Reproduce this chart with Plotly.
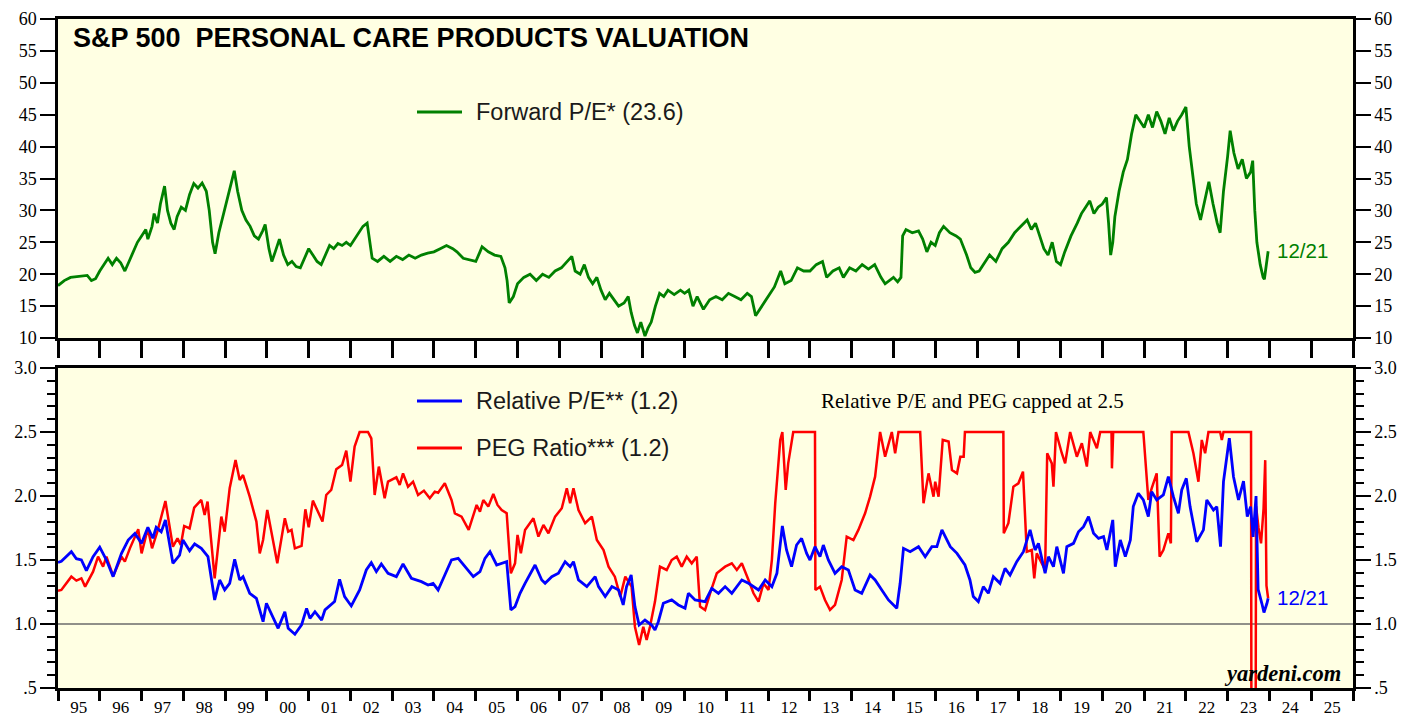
import plotly.graph_objects as go
from datetime import datetime, timedelta

# ---------------- DATA (decimal year, value) ----------------
fpe_t = [1995.0,1995.15,1995.3,1995.5,1995.7,1995.8,1995.9,1996.0,1996.1,1996.2,1996.3,1996.4,1996.5,1996.6,1996.7,1996.8,1996.9,
         1997.0,1997.1,1997.15,1997.25,1997.3,1997.38,1997.45,1997.55,1997.62,1997.7,1997.78,1997.85,1997.95,1998.05,1998.15,1998.25,
         1998.35,1998.45,1998.55,1998.62,1998.7,1998.76,1998.85,1998.95,1999.05,1999.15,1999.22,1999.3,1999.4,1999.5,1999.6,1999.7,
         1999.8,1999.9,1999.96,2000.05,2000.12,2000.2,2000.3,2000.4,2000.5,2000.6,2000.7,2000.8,2000.9,2001.0,2001.1,2001.2,2001.3,
         2001.4,2001.5,2001.6,2001.7,2001.8,2001.9,2002.0,2002.1,2002.2,2002.3,2002.4,2002.45,2002.52,2002.65,2002.8,2002.95,2003.1,
         2003.25,2003.4,2003.55,2003.7,2003.85,2004.0,2004.15,2004.3,2004.45,2004.55,2004.7,2004.85,2005.0,2005.1,2005.15,2005.3,
         2005.45,2005.6,2005.7,2005.75,2005.8,2005.9,2006.0,2006.15,2006.3,2006.45,2006.6,2006.75,2006.9,2007.05,2007.2,2007.3,
         2007.38,2007.5,2007.6,2007.7,2007.8,2007.9,2008.0,2008.1,2008.2,2008.3,2008.42,2008.55,2008.65,2008.72,2008.8,2008.87,
         2008.95,2009.05,2009.12,2009.2,2009.3,2009.4,2009.5,2009.6,2009.75,2009.9,2010.0,2010.1,2010.2,2010.3,2010.45,2010.6,
         2010.75,2010.9,2011.05,2011.2,2011.35,2011.5,2011.6,2011.7,2011.8,2011.9,2012.0,2012.15,2012.3,2012.4,2012.55,2012.7,
         2012.85,2013.0,2013.15,2013.3,2013.4,2013.55,2013.7,2013.8,2013.95,2014.1,2014.25,2014.4,2014.55,2014.7,2014.8,2014.9,
         2015.0,2015.1,2015.18,2015.22,2015.3,2015.45,2015.6,2015.7,2015.8,2015.9,2016.0,2016.1,2016.2,2016.35,2016.5,2016.6,
         2016.75,2016.85,2016.95,2017.05,2017.2,2017.3,2017.45,2017.6,2017.75,2017.9,2018.05,2018.2,2018.3,2018.4,2018.5,2018.6,
         2018.7,2018.8,2018.9,2019.0,2019.1,2019.25,2019.4,2019.5,2019.6,2019.7,2019.8,2019.9,2020.0,2020.1,2020.15,2020.2,
         2020.25,2020.3,2020.4,2020.5,2020.6,2020.7,2020.8,2020.9,2021.0,2021.1,2021.2,2021.3,2021.4,2021.5,2021.6,2021.7,2021.8,
         2021.9,2022.0,2022.08,2022.15,2022.25,2022.35,2022.45,2022.55,2022.65,2022.75,2022.82,2022.9,2023.0,2023.06,2023.15,
         2023.25,2023.35,2023.45,2023.55,2023.6,2023.65,2023.7,2023.78,2023.85,2023.88,2023.92,2023.97]
fpe_v = [18.2,19.0,19.5,19.6,19.8,19.0,19.3,20.5,21.5,22.5,21.5,22.5,21.8,20.5,22.0,23.5,25.0,
         26.0,27.0,25.5,27.5,29.5,28.0,31.0,33.8,30.0,28.0,27.0,29.0,30.5,30.0,32.5,34.2,
         33.5,34.3,33.0,30.0,25.0,23.2,26.5,29.0,31.5,34.0,36.2,33.0,30.0,28.5,27.5,26.0,
         25.5,26.8,27.8,24.0,22.0,23.5,25.5,23.0,21.5,22.0,21.2,21.0,22.5,24.0,23.0,22.0,21.5,
         23.0,24.5,24.0,24.8,24.5,25.0,24.5,25.5,26.5,27.5,28.0,26.0,22.5,22.0,22.8,22.0,22.8,
         22.3,23.0,22.5,23.0,23.3,23.5,24.0,24.5,24.0,23.5,22.5,22.3,22.0,23.5,24.3,23.5,
         23.0,22.8,21.0,19.0,15.5,16.5,18.5,19.5,20.0,19.0,20.0,19.5,20.5,21.0,22.0,22.8,
         20.5,20.0,21.5,19.5,18.5,19.5,17.5,16.0,17.0,16.0,15.0,15.5,16.5,14.0,12.0,10.8,
         12.5,10.3,11.5,12.5,15.0,17.0,16.5,17.5,16.8,17.5,17.0,17.5,15.0,16.5,14.5,16.0,
         16.5,16.0,17.0,16.5,16.0,17.0,16.5,13.5,14.5,15.5,16.5,18.0,20.5,18.5,19.0,21.0,
         20.5,20.5,21.5,22.0,19.5,20.5,21.0,19.5,21.0,20.5,21.5,20.8,21.5,19.5,18.5,19.0,
         19.5,18.8,19.5,26.0,27.0,26.5,26.8,25.5,23.5,25.0,24.5,26.5,27.5,26.5,26.0,25.5,
         23.0,21.0,20.3,20.5,22.0,23.0,22.0,24.0,25.0,26.5,27.5,28.5,27.0,28.0,26.0,24.0,
         23.0,25.0,22.0,21.5,23.5,26.0,28.0,29.5,30.5,31.5,29.5,30.5,31.0,32.0,28.0,23.0,
         25.0,29.0,33.0,36.0,38.0,42.0,45.0,44.0,43.0,45.0,43.0,45.5,44.0,42.0,44.5,42.5,44.0,
         45.0,46.2,40.0,36.0,31.0,28.5,31.5,34.5,31.0,28.0,26.5,33.0,38.5,42.5,39.0,
         36.5,38.0,35.0,36.0,37.8,30.0,25.0,21.5,19.5,19.2,21.5,23.6]

rel_t = [1995.0,1995.08,1995.32,1995.44,1995.56,1995.68,1995.84,1996.0,1996.16,1996.32,1996.52,1996.68,1996.84,1997.0,1997.15,
         1997.27,1997.35,1997.47,1997.57,1997.75,1997.91,1997.99,1998.15,1998.27,1998.43,1998.59,1998.75,1998.87,1998.99,1999.11,
         1999.23,1999.35,1999.43,1999.59,1999.75,1999.91,1999.99,2000.11,2000.27,2000.43,2000.51,2000.67,2000.83,2000.95,2001.03,
         2001.15,2001.31,2001.39,2001.62,2001.74,2001.86,2002.02,2002.22,2002.38,2002.5,2002.62,2002.74,2002.9,2003.1,2003.26,
         2003.46,2003.7,2003.86,2003.98,2004.1,2004.26,2004.42,2004.58,2004.74,2004.94,2005.1,2005.22,2005.34,2005.5,2005.74,
         2005.84,2005.94,2006.06,2006.18,2006.42,2006.58,2006.66,2006.82,2006.98,2007.14,2007.26,2007.34,2007.46,2007.66,2007.86,
         2007.94,2008.1,2008.26,2008.42,2008.53,2008.61,2008.72,2008.81,2008.91,2009.05,2009.21,2009.29,2009.37,2009.49,2009.69,
         2009.85,2010.01,2010.09,2010.25,2010.49,2010.65,2010.81,2010.97,2011.13,2011.37,2011.53,2011.77,2011.93,2012.09,2012.21,
         2012.34,2012.44,2012.56,2012.68,2012.8,2012.92,2013.0,2013.12,2013.24,2013.32,2013.44,2013.6,2013.76,2013.92,2014.08,
         2014.24,2014.44,2014.56,2014.72,2014.88,2015.08,2015.16,2015.24,2015.4,2015.6,2015.76,2015.92,2016.04,2016.16,2016.36,
         2016.52,2016.71,2016.83,2016.91,2017.03,2017.15,2017.27,2017.39,2017.55,2017.67,2017.79,2017.95,2018.11,2018.27,2018.39,
         2018.47,2018.63,2018.71,2018.83,2018.91,2019.07,2019.15,2019.31,2019.43,2019.55,2019.67,2019.79,2019.91,2020.03,2020.11,
         2020.25,2020.31,2020.43,2020.55,2020.67,2020.74,2020.86,2020.98,2021.1,2021.18,2021.3,2021.46,2021.58,2021.7,2021.82,
         2021.9,2022.01,2022.1,2022.26,2022.42,2022.5,2022.66,2022.74,2022.83,2022.9,2022.98,2023.04,2023.14,2023.26,2023.38,
         2023.47,2023.55,2023.61,2023.68,2023.73,2023.82,2023.87,2023.94,2023.97]
rel_v = [1.48,1.49,1.565,1.51,1.50,1.417,1.526,1.60,1.50,1.37,1.552,1.656,1.708,1.63,1.755,
         1.67,1.755,1.72,1.813,1.474,1.539,1.656,1.573,1.625,1.591,1.526,1.188,1.344,1.266,1.318,
         1.505,1.344,1.37,1.24,1.201,1.018,1.162,1.083,0.966,1.096,0.966,0.92,0.993,1.122,1.044,
         1.096,1.031,1.11,1.175,1.349,1.214,1.141,1.266,1.422,1.479,1.409,1.469,1.396,1.37,1.469,
         1.357,1.331,1.305,1.318,1.266,1.383,1.50,1.513,1.448,1.37,1.409,1.513,1.565,1.461,1.487,
         1.11,1.136,1.24,1.318,1.461,1.344,1.318,1.37,1.396,1.487,1.448,1.487,1.344,1.292,1.37,
         1.292,1.214,1.292,1.266,1.149,1.292,1.383,1.136,0.992,1.031,0.992,0.953,1.018,1.162,1.188,
         1.149,1.123,1.24,1.188,1.175,1.279,1.24,1.292,1.24,1.344,1.318,1.266,1.344,1.292,1.396,
         1.766,1.578,1.448,1.617,1.669,1.552,1.50,1.604,1.526,1.617,1.50,1.396,1.448,1.422,1.266,
         1.24,1.383,1.344,1.266,1.188,1.123,1.318,1.591,1.565,1.604,1.526,1.604,1.604,1.735,1.604,
         1.552,1.461,1.344,1.214,1.175,1.292,1.24,1.37,1.318,1.435,1.383,1.487,1.565,1.735,1.578,
         1.63,1.396,1.526,1.448,1.604,1.396,1.604,1.63,1.721,1.76,1.839,1.709,1.669,1.683,1.578,
         1.813,1.448,1.656,1.526,1.656,1.917,2.021,1.969,1.839,2.034,1.969,2.008,2.151,1.995,1.865,
         2.047,2.138,1.917,1.643,1.735,1.969,1.891,1.917,1.604,2.112,2.308,2.451,2.151,1.969,2.116,
         1.84,1.917,1.68,2.0,1.27,1.16,1.09,1.16,1.2]

peg_t = [1995.0,1995.08,1995.32,1995.44,1995.56,1995.65,1995.84,1995.96,1996.08,1996.16,1996.32,1996.52,1996.6,1996.72,1996.92,
         1997.0,1997.15,1997.25,1997.39,1997.57,1997.75,1997.86,1997.94,1998.02,1998.15,1998.26,1998.43,1998.51,1998.58,1998.75,
         1998.91,1998.99,1999.11,1999.25,1999.35,1999.43,1999.59,1999.75,1999.83,1999.91,2000.01,2000.12,2000.25,2000.43,2000.51,
         2000.59,2000.67,2000.83,2000.92,2001.0,2001.1,2001.33,2001.42,2001.54,2001.66,2001.8,2001.9,2002.0,2002.1,2002.22,
         2002.42,2002.5,2002.58,2002.68,2002.82,2002.9,2003.1,2003.18,2003.26,2003.38,2003.5,2003.62,2003.76,2003.9,2004.02,
         2004.1,2004.26,2004.42,2004.5,2004.66,2004.83,2005.02,2005.1,2005.18,2005.3,2005.42,2005.52,2005.62,2005.74,2005.84,
         2005.94,2006.0,2006.08,2006.18,2006.38,2006.5,2006.62,2006.74,2006.9,2007.06,2007.18,2007.26,2007.34,2007.46,2007.62,
         2007.78,2007.9,2008.06,2008.18,2008.33,2008.46,2008.58,2008.73,2008.81,2008.91,2009.01,2009.09,2009.17,2009.29,2009.41,
         2009.57,2009.69,2009.81,2009.93,2010.05,2010.17,2010.29,2010.37,2010.49,2010.61,2010.77,2010.97,2011.13,2011.25,2011.37,
         2011.53,2011.65,2011.77,2011.89,2012.01,2012.09,2012.17,2012.29,2012.34,2012.42,2012.48,2012.6,2013.12,2013.13,2013.24,
         2013.36,2013.48,2013.6,2013.76,2013.88,2014.04,2014.16,2014.32,2014.44,2014.56,2014.68,2014.8,2014.96,2015.04,2015.12,
         2015.64,2015.72,2015.84,2015.96,2016.0,2016.08,2016.18,2016.32,2016.4,2016.52,2016.6,2016.68,2016.71,2017.63,2017.64,
         2017.75,2017.87,2017.99,2018.1,2018.15,2018.19,2018.31,2018.37,2018.43,2018.51,2018.63,2018.68,2018.79,2018.83,2018.89,
         2019.03,2019.11,2019.23,2019.39,2019.51,2019.63,2019.71,2019.87,2019.95,2020.22,2020.23,2020.26,2020.98,2021.06,2021.1,
         2021.18,2021.3,2021.37,2021.46,2021.58,2021.64,2021.66,2022.06,2022.18,2022.26,2022.3,2022.38,2022.46,2022.54,2022.82,
         2022.86,2022.9,2023.56,2023.57,2023.67,2023.68,2023.74,2023.8,2023.86,2023.9,2023.93,2023.97]
peg_v = [1.26,1.266,1.37,1.339,1.357,1.292,1.409,1.526,1.448,1.526,1.375,1.526,1.487,1.591,1.74,
         1.552,1.747,1.591,1.735,1.961,1.604,1.669,1.617,1.766,1.747,1.909,1.969,1.852,1.956,1.357,
         1.839,1.721,2.06,2.281,2.125,2.164,1.995,1.80,1.552,1.656,1.891,1.696,1.474,1.826,1.721,
         1.735,1.591,1.61,1.896,1.755,1.964,1.80,2.008,2.047,2.209,2.242,2.354,2.112,2.386,2.5,
         2.5,2.45,2.008,2.23,1.982,2.112,2.146,2.086,2.177,2.073,2.112,2.008,2.042,1.982,2.034,
         2.026,2.099,1.969,1.865,1.839,1.735,1.93,1.878,1.969,1.917,2.016,1.93,1.891,1.865,1.396,
         1.474,1.696,1.552,1.735,1.826,1.683,1.774,1.709,1.839,1.904,2.06,1.943,2.06,1.891,1.787,
         1.839,1.656,1.578,1.448,1.37,1.214,1.37,1.292,0.979,0.836,0.979,0.875,0.979,1.175,1.448,
         1.422,1.50,1.526,1.448,1.526,1.474,1.526,1.136,1.11,1.24,1.396,1.448,1.474,1.422,1.474,
         1.344,1.24,1.175,1.318,1.266,1.50,1.943,2.438,2.5,2.047,2.255,2.5,2.5,1.266,1.292,
         1.188,1.11,1.149,1.344,1.683,1.656,1.735,1.865,1.995,2.151,2.5,2.307,2.5,2.334,2.5,
         2.5,1.943,2.177,1.995,2.112,1.995,2.438,2.425,2.203,2.177,2.307,2.307,2.5,2.5,1.709,
         1.787,2.073,2.099,2.19,1.813,1.565,1.578,1.357,1.552,1.50,1.422,2.334,2.255,2.073,2.5,
         2.334,2.255,2.5,2.307,2.412,2.23,2.5,2.373,2.5,2.5,2.216,2.5,2.5,2.125,1.969,
         2.06,2.177,1.526,1.578,1.709,1.63,2.5,2.5,2.334,2.177,2.112,2.438,2.334,2.5,2.5,
         2.438,2.5,2.5,0.0,0.0,1.92,1.75,1.63,1.9,2.28,1.3,1.2]

year_ticks = list(range(1995, 2027))
peg_ticks = [0.5, 1.0, 1.5, 2.0, 2.5, 3.0]
peg_ticktext = [".5", "1.0", "1.5", "2.0", "2.5", "3.0"]
pe_ticks = list(range(10, 61, 5))

# ---------------- helpers ----------------
def to_date(v):
    y = int(v)
    days = 366 if (y % 4 == 0 and (y % 100 != 0 or y % 400 == 0)) else 365
    return datetime(y, 1, 1) + timedelta(days=(v - y) * days)

# the page body has an 8px margin: figure origin sits at screen (8, 8)
OFF = 8
W, H = 1419 - OFF, 717 - OFF
# plot-area edges in screen pixels
L, R, T, B = 58, 1353, 19, 688
def px(x):
    return (x - L) / (R - L)
def py(y):
    return (B - y) / (B - T)

BG = "#FFFFE3"
GREEN = "#008000"
BLUE = "#0000FF"
RED = "#FF0000"
SERIF = "Liberation Serif"
SANS = "Liberation Sans"

fig = go.Figure()
fig.add_trace(go.Scatter(x=[to_date(t) for t in fpe_t], y=fpe_v, mode="lines",
                         line=dict(color=GREEN, width=2.8), xaxis="x", yaxis="y", showlegend=False))
fig.add_trace(go.Scatter(x=[to_date(t) for t in peg_t], y=peg_v, mode="lines",
                         line=dict(color=RED, width=2.5), xaxis="x2", yaxis="y2", showlegend=False))
fig.add_trace(go.Scatter(x=[to_date(t) for t in rel_t], y=rel_v, mode="lines",
                         line=dict(color=BLUE, width=2.8), xaxis="x2", yaxis="y2", showlegend=False))
# dummy traces so right-side mirror axes are drawn
fig.add_trace(go.Scatter(x=[None], y=[None], xaxis="x", yaxis="y3", showlegend=False, hoverinfo="skip"))
fig.add_trace(go.Scatter(x=[None], y=[None], xaxis="x2", yaxis="y4", showlegend=False, hoverinfo="skip"))

xr = [datetime(1995, 1, 1), datetime(2026, 1, 1)]
tick_dates = [datetime(y, 1, 1) for y in year_ticks]
top_dom = [py(338), 1.0]
bot_dom = [0.0, py(368)]

axfont = dict(family=SERIF, size=18, color="black")
common_y = dict(showline=True, linecolor="black", linewidth=2.5, ticks="outside", automargin=False,
                ticklabeloverflow="allow", tickcolor="black", tickwidth=2, showgrid=False, zeroline=False,
                tickfont=axfont)

fig.update_layout(
    width=W, height=H,
    margin=dict(l=L - OFF, r=W - (R - OFF), t=T - OFF, b=H - (B - OFF), autoexpand=False),
    paper_bgcolor="white", plot_bgcolor=BG,
    showlegend=False,
    xaxis=dict(type="date", range=xr, domain=[0, 1], anchor="y", tickmode="array", tickvals=tick_dates,
               showticklabels=False, ticks="outside", ticklen=17, tickwidth=3, tickcolor="black", automargin=False,
               showline=True, linecolor="black", linewidth=3, mirror=True, showgrid=False, zeroline=False),
    yaxis=dict(domain=top_dom, range=[10, 60], tickmode="array", tickvals=pe_ticks, ticklen=15,
               mirror=True, **common_y),
    yaxis3=dict(overlaying="y", side="right", anchor="x", range=[10, 60], tickmode="array",
                tickvals=pe_ticks, ticklen=15, **common_y),
    xaxis2=dict(type="date", range=xr, domain=[0, 1], anchor="y2", tick0="1995-01-01", dtick="M12",
                tickformat="%y", ticklabelmode="period", ticks="outside", ticklen=10, tickwidth=3,
                ticklabelstandoff=-8, ticklabeloverflow="allow",
                tickcolor="black", tickfont=dict(family=SERIF, size=17, color="black"),
                showline=True, linecolor="black", linewidth=3,
                mirror=True, showgrid=False, zeroline=False, automargin=False),
    yaxis2=dict(domain=bot_dom, range=[0.5, 3.0], tickmode="array", tickvals=peg_ticks, ticktext=peg_ticktext,
                ticklen=15, mirror=True,
                minor=dict(dtick=0.1, tick0=0.5, ticklen=8, tickwidth=2, tickcolor="black", ticks="outside",
                           showgrid=False),
                **common_y),
    yaxis4=dict(overlaying="y2", side="right", anchor="x2", range=[0.5, 3.0], tickmode="array",
                tickvals=peg_ticks, ticktext=peg_ticktext, ticklen=15,
                minor=dict(dtick=0.1, tick0=0.5, ticklen=8, tickwidth=2, tickcolor="black", ticks="outside",
                           showgrid=False),
                **common_y),
)

# horizontal 1.0 reference line
fig.add_shape(type="line", xref="x2 domain", yref="y2", x0=0, x1=1, y0=1.0, y1=1.0,
              line=dict(color="#6b6b6b", width=1.5), layer="below")

# legend samples
for yy, col in [(112, GREEN), (401, BLUE), (448, RED)]:
    fig.add_shape(type="line", xref="paper", yref="paper", x0=px(417), x1=px(462), y0=py(yy), y1=py(yy),
                  line=dict(color=col, width=3))

def ann(text, x, y, size, color="black", family=SANS, xanchor="left", yanchor="middle"):
    fig.add_annotation(text=text, x=px(x), y=py(y), xref="paper", yref="paper", showarrow=False,
                       xanchor=xanchor, yanchor=yanchor, font=dict(family=family, size=size, color=color))

ann("<b>S&amp;P 500  PERSONAL CARE PRODUCTS VALUATION</b>", 71, 38, 27)
ann("Forward P/E* (23.6)", 474, 112, 23.5, color="#1a1a1a")
ann("Relative P/E** (1.2)", 474, 401, 23.5, color="#1a1a1a")
ann("PEG Ratio*** (1.2)", 474, 448, 23.5, color="#1a1a1a")
ann("Relative P/E and PEG capped at 2.5", 819, 401, 21, family=SERIF)
ann("12/21", 1275, 251, 20.5, color=GREEN)
ann("12/21", 1275, 597, 20.5, color=BLUE)
ann("<b><i>yardeni.com</i></b>", 1343, 673, 22.5, family=SERIF, xanchor="right")

fig.write_html("out.html")
